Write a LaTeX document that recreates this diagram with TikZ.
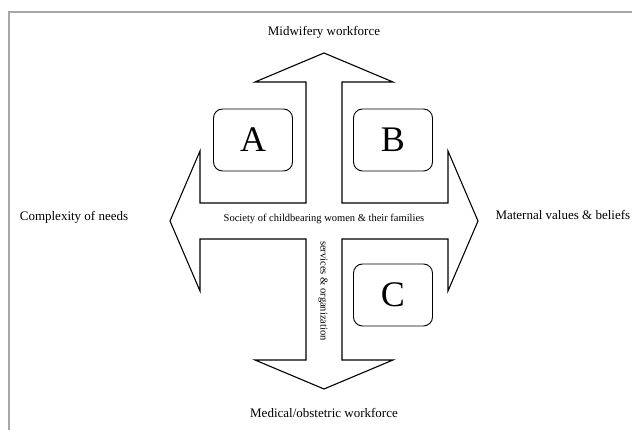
\documentclass[tikz,border=0pt]{standalone}
\usepackage{fontspec}
\setmainfont{Liberation Serif}
\usepackage{tikz}

\begin{document}
\begin{tikzpicture}[x=1pt,y=1pt,
  label/.style={font=\fontsize{13}{15}\selectfont},
  inner/.style={font=\fontsize{10.5}{12}\selectfont},
  letterbox/.style={draw,line width=0.9pt,rounded corners=9pt,minimum width=79pt,minimum height=62pt,font=\fontsize{36}{40}\selectfont}]
  \useasboundingbox (-324,-209) rectangle (308,221);
  % frame
  \draw[gray!70,line width=1.5pt] (-315,-209) -- (-315,209) -- (308,209);
  % the cross of arrows
  \draw[line width=1.1pt,line join=miter]
    (0,168) -- (69,139) -- (18,139) -- (18,18) -- (124,18) -- (124,70) -- (154,0)
    -- (124,-70) -- (124,-18) -- (18,-18) -- (18,-139) -- (69,-139) -- (0,-168)
    -- (-69,-139) -- (-18,-139) -- (-18,-18) -- (-124,-18) -- (-124,-70) -- (-154,0)
    -- (-124,70) -- (-124,18) -- (-18,18) -- (-18,139) -- (-69,139) -- cycle;
  \node[letterbox] (A) at (-71,81) {A};
  \node[letterbox] (B) at (69,81) {B};
  \node[letterbox] (C) at (69,-74) {C};
  \node[inner] (society) at (0,2) {Society of childbearing women \& their families};
  \node[inner,rotate=-90] (services) at (-1,-70) {services \& organization};
  \node[label] (midwifery) at (0,189) {Midwifery workforce};
  \node[label] (medical) at (0,-192) {Medical/obstetric workforce};
  \node[label] (complexity) at (-250,4) {Complexity of needs};
  \node[label,anchor=west] (maternal) at (168,6) {Maternal values \& beliefs};
\end{tikzpicture}
\end{document}
